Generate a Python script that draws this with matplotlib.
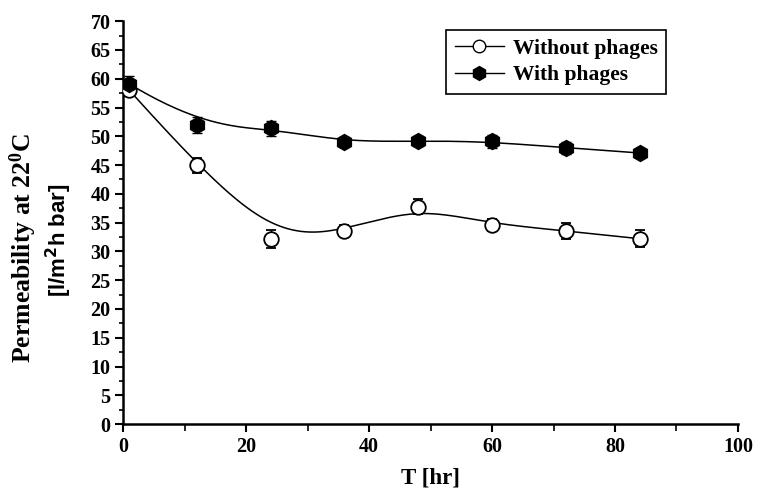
import numpy as np
import matplotlib.pyplot as plt
from matplotlib.ticker import MultipleLocator

# time points [hr]
t = [1, 12, 24, 36, 48, 60, 72, 84]
# permeability without phages and its error
without = [58.0, 45.0, 32.2, 33.6, 37.8, 34.6, 33.6, 32.2]
without_err = [1.0, 1.3, 1.6, 1.0, 1.3, 1.0, 1.4, 1.5]
# permeability with phages and its error
with_ph = [59.1, 52.0, 51.4, 49.0, 49.2, 49.1, 48.0, 47.1]
with_err = [1.3, 1.4, 1.3, 0.8, 0.9, 1.2, 1.0, 0.7]


def bspline(px, py, n=300):
    # clamped cubic B-spline with the data points as control points
    px = np.asarray(px, float)
    py = np.asarray(py, float)
    k = 3
    m = len(px)
    knots = np.concatenate([np.zeros(k), np.linspace(0, 1, m - k + 1), np.ones(k)])
    u = np.linspace(0, 1, n)
    u[-1] = 1 - 1e-12
    B = np.zeros((n, len(knots) - 1))
    for i in range(len(knots) - 1):
        B[:, i] = (u >= knots[i]) & (u < knots[i + 1])
    for d in range(1, k + 1):
        Bn = np.zeros((n, len(knots) - 1 - d))
        for i in range(len(knots) - 1 - d):
            a = knots[i + d] - knots[i]
            b = knots[i + d + 1] - knots[i + 1]
            left = (u - knots[i]) / a * B[:, i] if a > 0 else 0
            right = (knots[i + d + 1] - u) / b * B[:, i + 1] if b > 0 else 0
            Bn[:, i] = left + right
        B = Bn
    return B @ px, B @ py


plt.rcParams['font.family'] = 'Liberation Serif'
plt.rcParams['font.weight'] = 'bold'
plt.rcParams['mathtext.fontset'] = 'custom'
plt.rcParams['mathtext.rm'] = 'Liberation Serif:bold'
plt.rcParams['mathtext.it'] = 'Liberation Serif:bold'

fig = plt.figure(figsize=(7.6, 4.92), dpi=100)
ax = fig.add_axes([0.162, 0.138, 0.809, 0.819])

sx, sy = bspline(t, without)
ax.plot(sx, sy, color='black', lw=1.1, zorder=2)
sx, sy = bspline(t, with_ph)
ax.plot(sx, sy, color='black', lw=1.1, zorder=2)

ax.errorbar(t, without, yerr=without_err, fmt='o', ms=10.5, mfc='white', mec='black',
            mew=1.3, ecolor='black', elinewidth=1, capsize=3.5, zorder=3)
ax.errorbar(t, with_ph, yerr=with_err, fmt='h', ms=11.5, mfc='black', mec='black',
            ecolor='black', elinewidth=1, capsize=3.5, zorder=3)

# legend proxies
ax.plot([], [], '-o', color='black', mfc='white', ms=9, lw=1, label='Without phages')
ax.plot([], [], '-h', color='black', ms=10, lw=1, label='With phages')
leg = ax.legend(loc='upper left', bbox_to_anchor=(0.525, 0.978), borderaxespad=0,
                fancybox=False, edgecolor='black', framealpha=1,
                prop={'size': 15.5, 'weight': 'bold'},
                handlelength=2.3, borderpad=0.4, labelspacing=0.3, handletextpad=0.4)
leg.get_frame().set_linewidth(1.2)

ax.set_xlim(0, 100)
ax.set_ylim(0, 70)
ax.xaxis.set_major_locator(MultipleLocator(20))
ax.xaxis.set_minor_locator(MultipleLocator(10))
ax.yaxis.set_major_locator(MultipleLocator(5))
ax.yaxis.set_minor_locator(MultipleLocator(2.5))
ax.spines['top'].set_visible(False)
ax.spines['right'].set_visible(False)
for s in ['left', 'bottom']:
    ax.spines[s].set_linewidth(1.8)
ax.tick_params(which='major', direction='out', length=6, width=1.5, labelsize=14.5, pad=3)
ax.tick_params(which='minor', direction='out', length=3, width=1.2)
ax.xaxis.set_tick_params(which='minor', length=5)

ax.set_xlabel('T [hr]', fontsize=16.5, fontweight='bold', labelpad=8)
fig.text(0.031, 0.496, 'Permeability at 22$^0$C', rotation=90, fontsize=18.5,
         fontweight='bold', ha='center', va='center')
fig.text(0.077, 0.512, '[l/m$^2$h bar]', rotation=90, fontsize=16, ha='center',
         va='center', family='Liberation Sans', fontweight='bold',
         math_fontfamily='dejavusans')

fig.savefig('out.png', dpi=100)
